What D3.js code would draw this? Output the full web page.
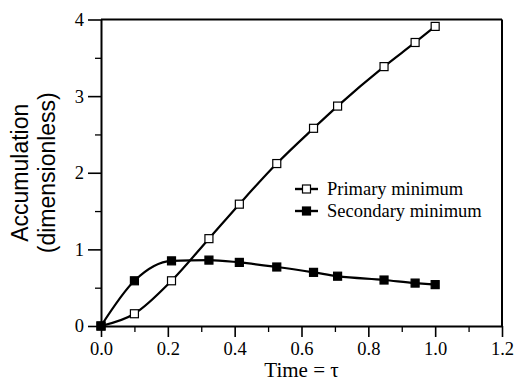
<!DOCTYPE html>
<html>
<head>
<meta charset="utf-8">
<script src="https://cdn.jsdelivr.net/npm/d3@7"></script>
<style>
  body { margin: 0; background: #fff; }
</style>
</head>
<body>
<div class="grafico"></div>
<script>
var margin = { top: 19.5, right: 13, bottom: 56, left: 101 },
  width = 515 - margin.left - margin.right,
  height = 382 - margin.top - margin.bottom;

// data
const time = [0, 0.1, 0.211, 0.323, 0.414, 0.526, 0.636, 0.708, 0.847, 0.94, 1.0];
const primary = [0, 0.16, 0.59, 1.14, 1.59, 2.12, 2.58, 2.87, 3.385, 3.70, 3.91];
const secondary = [0, 0.59, 0.85, 0.86, 0.83, 0.77, 0.70, 0.65, 0.60, 0.56, 0.54];
const seriesNames = ["Primary minimum", "Secondary minimum"];
const xTicks = [0, 0.2, 0.4, 0.6, 0.8, 1.0, 1.2];
const yTicks = [0, 1, 2, 3, 4];

const serif = "'Liberation Serif', 'Times New Roman', serif";

let svg = d3.select(".grafico")
  .append("svg")
  .attr("width", 515)
  .attr("height", 382);

let g = svg.append("g")
  .attr("transform", "translate(" + margin.left + "," + margin.top + ")");

const x = d3.scaleLinear().domain([0, 1.2]).range([0, width]);
const y = d3.scaleLinear().domain([0, 4]).range([height, 0]);

// minor ticks
g.append("g")
  .attr("transform", "translate(0," + height + ")")
  .call(d3.axisBottom(x).tickValues(d3.range(0.1, 1.2, 0.2)).tickSize(6).tickFormat(""))
  .call(a => a.select(".domain").remove())
  .selectAll("line").attr("stroke-width", 1.3);

g.append("g")
  .call(d3.axisLeft(y).tickValues(d3.range(0.5, 4, 1)).tickSize(6).tickFormat(""))
  .call(a => a.select(".domain").remove())
  .selectAll("line").attr("stroke-width", 1.3);

// major axes
let xAxis = g.append("g")
  .attr("transform", "translate(0," + height + ")")
  .call(d3.axisBottom(x).tickValues(xTicks).tickSize(11).tickSizeOuter(0).tickPadding(5)
    .tickFormat(d3.format(".1f")));
xAxis.select(".domain").attr("stroke-width", 2);
xAxis.selectAll("line").attr("stroke-width", 1.6);

let yAxis = g.append("g")
  .call(d3.axisLeft(y).tickValues(yTicks).tickSize(13).tickSizeOuter(0).tickPadding(4)
    .tickFormat(d3.format("d")));
yAxis.select(".domain").attr("stroke-width", 2);
yAxis.selectAll("line").attr("stroke-width", 1.6);

[xAxis, yAxis].forEach(a => a.attr("font-family", null).attr("font-size", null)
  .selectAll("text")
  .style("font-family", serif)
  .style("font-size", "18.5px")
  .attr("fill", "#000"));

// top and right frame
g.append("line")
  .attr("x1", 0).attr("x2", width).attr("y1", 0).attr("y2", 0)
  .attr("stroke", "#000").attr("stroke-width", 2);
g.append("line")
  .attr("x1", width).attr("x2", width).attr("y1", 0).attr("y2", height)
  .attr("stroke", "#000").attr("stroke-width", 2);

// curves
const line = d3.line()
  .x(d => x(d[0]))
  .y(d => y(d[1]))
  .curve(d3.curveMonotoneX);

const series = [
  { name: seriesNames[0], values: time.map((t, i) => [t, primary[i]]), fill: "#fff" },
  { name: seriesNames[1], values: time.map((t, i) => [t, secondary[i]]), fill: "#000" }
];

const sq = 8;

series.forEach(s => {
  g.append("path")
    .datum(s.values)
    .attr("fill", "none")
    .attr("stroke", "#000")
    .attr("stroke-width", 2.2)
    .attr("d", line);
});

series.forEach(s => {
  g.selectAll(null)
    .data(s.values)
    .enter().append("rect")
    .attr("x", d => x(d[0]) - sq / 2)
    .attr("y", d => y(d[1]) - sq / 2)
    .attr("width", sq)
    .attr("height", sq)
    .attr("fill", s.fill)
    .attr("stroke", "#000")
    .attr("stroke-width", 1.2);
});

// legend
var legend = svg.append("g")
  .selectAll("g")
  .data(series)
  .enter().append("g")
  .attr("transform", (d, i) => "translate(295," + (189 + i * 22) + ")");

legend.append("line")
  .attr("x1", 0).attr("x2", 23)
  .attr("stroke", "#000").attr("stroke-width", 2.4);
legend.append("rect")
  .attr("x", 11.5 - sq / 2).attr("y", -sq / 2)
  .attr("width", sq).attr("height", sq)
  .attr("fill", d => d.fill)
  .attr("stroke", "#000").attr("stroke-width", 1.2);
legend.append("text")
  .attr("x", 32)
  .attr("y", 6)
  .style("font-family", serif)
  .style("font-size", "18.5px")
  .text(d => d.name);

// axis titles
svg.append("text")
  .attr("x", margin.left + width / 2)
  .attr("y", 377)
  .attr("text-anchor", "middle")
  .style("font-family", serif)
  .style("font-size", "21px")
  .text("Time = τ");

let yl = svg.append("text")
  .attr("transform", "translate(28," + (margin.top + height / 2) + ") rotate(-90)")
  .attr("text-anchor", "middle")
  .style("font-family", "'Liberation Sans', Arial, sans-serif")
  .style("font-size", "23px");
yl.append("tspan").attr("x", 0).attr("y", 0).text("Accumulation");
yl.append("tspan").attr("x", 0).attr("y", 27).text("(dimensionless)");
</script>
</body>
</html>
